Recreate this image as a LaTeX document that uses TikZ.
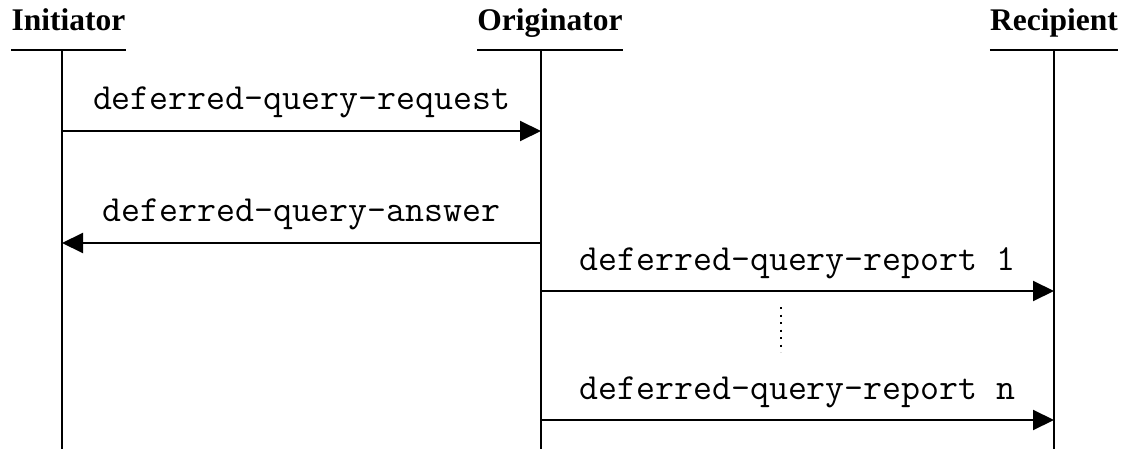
\documentclass[tikz,border=0pt]{standalone}
\usepackage{fontspec}
\setmainfont{Liberation Serif}
\usetikzlibrary{arrows.meta}

\tikzset{
  party/.style={font=\fontsize{31.5}{36}\selectfont\bfseries, inner sep=0pt, anchor=base},
  msg/.style={font=\fontsize{36.8}{40}\selectfont\ttfamily, inner sep=0pt, anchor=base, yshift=21pt},
  rule/.style={line width=2pt},
  call/.style={line width=2pt, -{Triangle[length=21pt,width=20pt]}},
}

\begin{document}
\begin{tikzpicture}[x=1pt,y=-1pt]

    \useasboundingbox (0,0) rectangle (1124,449);

    % Party headings
    \node[party] (ini) at (68.5,31) {Initiator};
    \node[party] (ori) at (550,31) {Originator};
    \node[party] (rec) at (1054,31) {Recipient};

    % Heading rules
    \coordinate (base) at (0,50);
    \draw[rule] (ini.west |- base) -- (ini.east |- base);
    \draw[rule] (ori.west |- base) -- (ori.east |- base);
    \draw[rule] (rec.west |- base) -- (rec.east |- base);

    % Lifelines
    \coordinate (ini-top) at (62,50);
    \coordinate (ini-bot) at (62,449);
    \coordinate (ori-top) at (541,50);
    \coordinate (ori-bot) at (541,449);
    \coordinate (rec-top) at (1054,50);
    \coordinate (rec-bot) at (1054,449);
    \draw[rule] (ini-top) -- (ini-bot);
    \draw[rule] (ori-top) -- (ori-bot);
    \draw[rule] (rec-top) -- (rec-bot);

    % Message rows
    \coordinate (row1) at (0,131);
    \coordinate (row2) at (0,243);
    \coordinate (row3) at (0,291);
    \coordinate (row4) at (0,420);

    % Messages
    \draw[call] (ini-top |- row1) -- (ori-top |- row1)
        node[msg, midway] (req) {deferred-query-request};
    \draw[call] (ori-top |- row2) -- (ini-top |- row2)
        node[msg, midway] (ans) {deferred-query-answer};
    \draw[call] (ori-top |- row3) -- (rec-top |- row3)
        node[msg, midway] (rep1) {deferred-query-report 1};
    \draw[call] (ori-top |- row4) -- (rec-top |- row4)
        node[msg, midway] (repn) {deferred-query-report n};

    % Gap between reports
    \coordinate (gap-top) at (781,307);
    \coordinate (gap-bot) at (781,352);
    \draw[line width=1.5pt, dash pattern=on 2pt off 5.5pt] (gap-top) -- (gap-bot);

\end{tikzpicture}
\end{document}
